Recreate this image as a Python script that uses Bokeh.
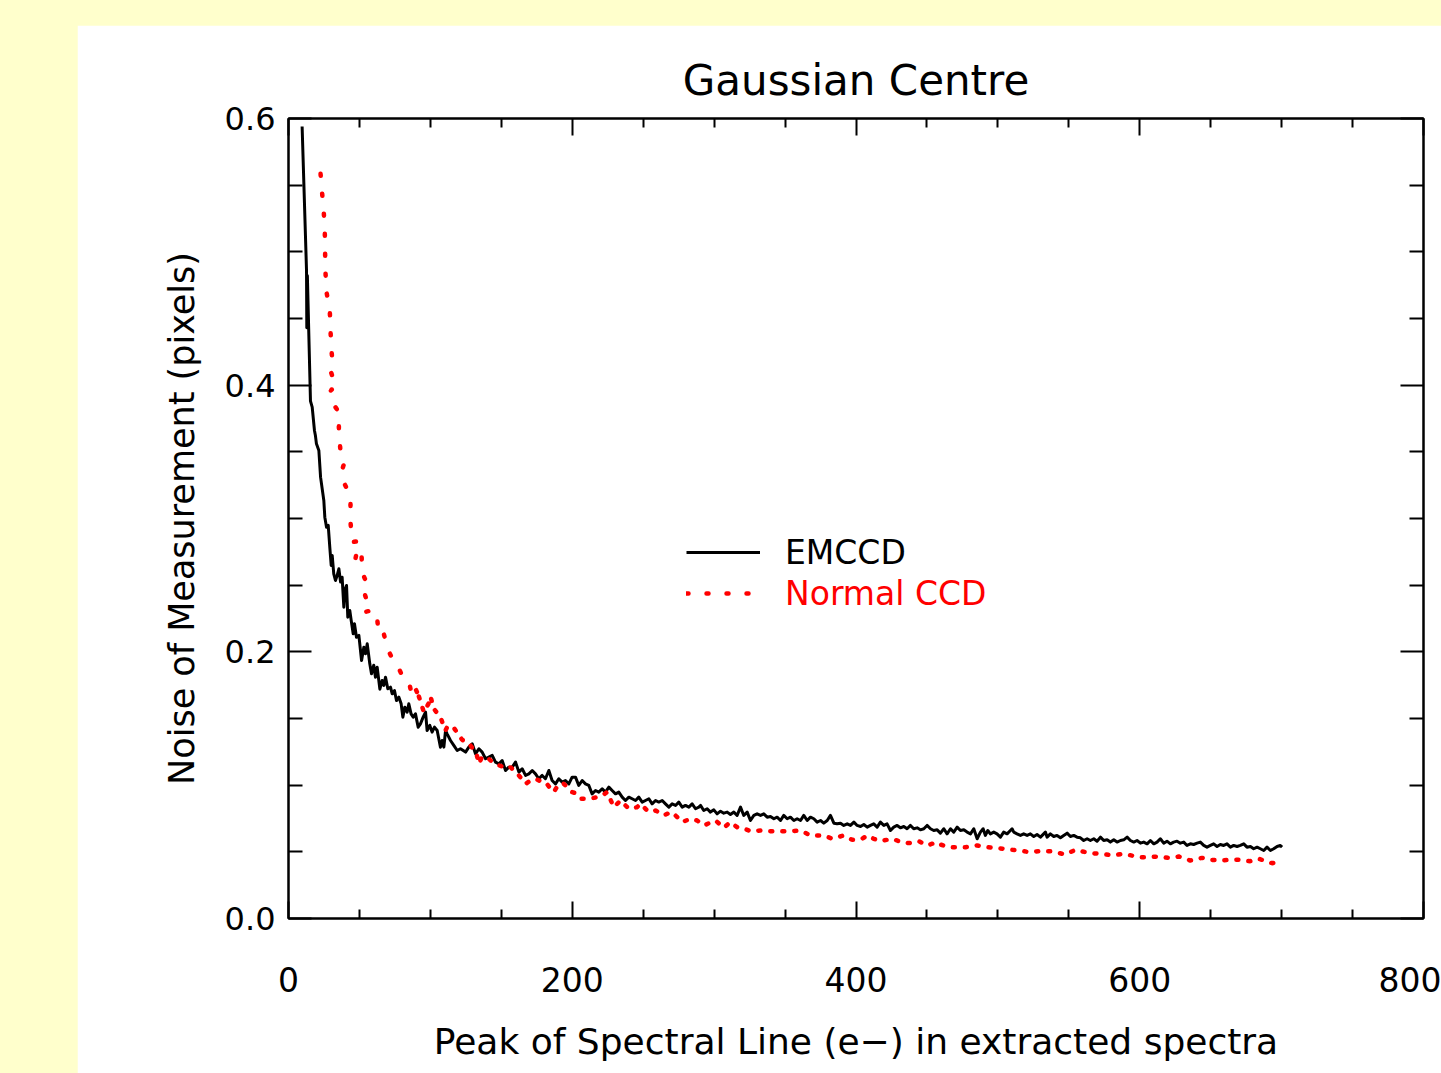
from bokeh.plotting import figure
from bokeh.models import (FixedTicker, LinearAxis, Range1d, NumeralTickFormatter,
                          CustomJSTickFormatter, Legend, LegendItem, Spacer)
from bokeh.layouts import column, row
from bokeh.embed import file_html
from bokeh.resources import INLINE

# ---------------- data ----------------
title_text = "Gaussian Centre"
x_label = "Peak of Spectral Line (e\u2212) in extracted spectra"
y_label = "Noise of Measurement (pixels)"
series_names = ["EMCCD", "Normal CCD"]
x_ticks = [0, 200, 400, 600, 800]
x_minor = [50, 100, 150, 250, 300, 350, 450, 500, 550, 650, 700, 750]
y_ticks = [0.0, 0.2, 0.4, 0.6]
y_minor = [0.05, 0.1, 0.15, 0.25, 0.3, 0.35, 0.45, 0.5, 0.55]

emccd_x = [
    9.6, 12.7, 12.9, 13.3, 15.5, 16.7, 18.3, 19.0, 19.7, 21.4,
    22.6, 24.9, 25.6, 26.8, 28.0, 29.1, 30.1, 30.8, 31.9, 33.1,
    34.3, 35.5, 36.7, 37.8, 39.0, 39.7, 40.9, 41.8, 43.2, 44.2,
    45.6, 46.5, 47.9, 49.6, 51.5, 53.1, 54.3, 55.5, 57.3, 58.5,
    60.1, 61.3, 62.5, 64.4, 66.0, 67.2, 68.4, 70.0, 71.9, 73.1,
    74.7, 76.1, 77.8, 79.4, 80.6, 82.0, 83.6, 84.8, 86.4, 87.9,
    89.5, 91.4, 93.0, 94.9, 96.6, 97.7, 99.6, 101.2, 102.9, 104.8,
    107.1, 108.3, 109.5, 110.7, 111.8,
    114.2, 116.5, 118.9, 121.2, 124.8, 127.1, 129.5, 131.8, 134.2, 136.5,
    138.9, 141.2, 143.6, 145.9, 148.3, 150.6, 153.0, 155.3, 157.7, 160.0,
    162.4, 164.7, 167.1, 169.4, 171.8, 174.1, 176.4, 178.8, 181.1, 183.5,
    185.8, 188.2, 190.5, 192.9, 195.2, 197.6, 199.9, 202.3, 204.6, 207.0,
    209.3, 211.7, 214.0, 216.4, 218.7, 221.1, 223.4, 225.8, 228.1, 230.5,
    232.8, 235.2, 237.5, 239.9, 242.2, 244.6, 246.9, 249.3, 251.6, 254.0,
    256.3, 258.7, 261.0, 263.4, 265.7, 268.1, 270.4, 272.8, 275.1, 277.5,
    279.8, 282.2, 284.5, 286.9, 289.2,
    290.4, 292.7, 295.1, 297.4, 299.8, 302.1, 304.5, 306.8, 309.2, 311.5,
    313.9, 316.2, 318.6, 320.9, 323.3, 325.6, 328.0, 330.3, 332.7, 335.0,
    337.4, 339.7, 342.1, 344.4, 346.8, 349.1, 351.5, 353.8, 356.2, 358.5,
    360.9, 363.2, 365.6, 367.9, 370.3, 372.6, 375.0, 377.3, 379.7, 382.0,
    384.4, 386.7, 389.1, 391.4, 393.8, 396.1, 398.5, 400.8, 403.2, 405.5,
    407.9, 410.2, 412.5, 414.9, 417.2, 419.6, 421.9, 424.3, 426.6, 429.0,
    431.3, 433.7, 436.0, 438.4, 440.7, 443.1, 445.4, 447.8, 450.1, 452.5,
    454.8, 457.2, 459.5, 461.9, 464.2, 466.6, 468.9, 471.3, 473.6, 476.0,
    478.3, 480.7, 483.0, 485.4,
    487.7, 489.6, 491.2, 492.9, 494.7, 497.1, 499.4, 501.8, 504.1, 506.5,
    508.8, 510.0, 511.2, 513.5, 515.9, 518.2, 520.6, 522.9, 525.3, 527.6,
    530.0, 532.3, 533.5, 534.7, 537.0, 539.4, 541.7, 544.1, 546.4, 548.8,
    551.1, 553.5, 555.8, 558.2, 560.5, 562.9, 565.2, 567.6, 569.9, 572.3,
    574.6, 577.0, 579.3, 581.7, 584.0, 586.4, 588.7, 591.1, 593.4, 595.8,
    598.1, 600.5, 602.8, 605.2, 607.5, 609.9, 612.2, 614.5, 616.9, 619.2,
    621.6, 623.9, 626.3, 628.6, 631.0, 633.3, 635.7, 638.0, 640.4, 642.7,
    645.1, 647.4, 649.8, 652.1, 654.5, 656.8, 659.2, 661.5, 663.9, 666.2,
    668.6, 670.9, 673.3, 675.6, 678.0, 680.3, 682.7, 685.0, 687.4, 689.7,
    692.1, 694.4, 696.8, 699.1, 700.3,
]
emccd_y = [
    0.594, 0.486, 0.443, 0.482, 0.388, 0.3835, 0.366, 0.362, 0.356, 0.351,
    0.331, 0.3135, 0.301, 0.2935, 0.2948, 0.2785, 0.2648, 0.2723, 0.2585, 0.2535,
    0.2573, 0.2623, 0.2523, 0.256, 0.2335, 0.246, 0.2498, 0.226, 0.231, 0.2235,
    0.2135, 0.221, 0.211, 0.2123, 0.1935, 0.2035, 0.1985, 0.206, 0.191, 0.1835,
    0.19, 0.181, 0.1885, 0.172, 0.1785, 0.1748, 0.181, 0.1723, 0.1735, 0.1685,
    0.171, 0.1635, 0.166, 0.161, 0.151, 0.1585, 0.1548, 0.161, 0.1535, 0.151,
    0.1535, 0.1435, 0.146, 0.151, 0.1548, 0.141, 0.1448, 0.1398, 0.1435, 0.141,
    0.1285, 0.1335, 0.1285, 0.141, 0.1385,
    0.1335, 0.1298, 0.126, 0.1273, 0.1248, 0.1285, 0.131, 0.1235, 0.1273, 0.1248,
    0.1198, 0.121, 0.1223, 0.1173, 0.116, 0.1185, 0.111, 0.1135, 0.1135, 0.1173,
    0.1098, 0.1123, 0.1073, 0.1085, 0.111, 0.1085, 0.1048, 0.1073, 0.1048, 0.111,
    0.1035, 0.101, 0.1048, 0.1023, 0.1035, 0.101, 0.106, 0.106, 0.0998, 0.1035,
    0.101, 0.0998, 0.0935, 0.096, 0.0948, 0.0973, 0.0948, 0.0985, 0.096, 0.0935,
    0.0948, 0.091, 0.0885, 0.091, 0.0898, 0.0885, 0.091, 0.0873, 0.0885, 0.0898,
    0.086, 0.0885, 0.0873, 0.0885, 0.086, 0.0835, 0.086, 0.0848, 0.0873, 0.0835,
    0.0848, 0.0835, 0.086, 0.0823, 0.0835,
    0.0848, 0.081, 0.0823, 0.0798, 0.0815, 0.0785, 0.0805, 0.079, 0.0798, 0.078,
    0.0798, 0.0773, 0.0835, 0.0773, 0.0798, 0.0735, 0.0773, 0.0785, 0.0773, 0.0785,
    0.076, 0.0765, 0.0748, 0.076, 0.0735, 0.0773, 0.0748, 0.076, 0.0735, 0.0748,
    0.0735, 0.0773, 0.0735, 0.076, 0.0748, 0.0723, 0.0735, 0.0715, 0.0735, 0.0773,
    0.0715, 0.071, 0.0715, 0.0698, 0.071, 0.0698, 0.0723, 0.0698, 0.069, 0.0705,
    0.0685, 0.0698, 0.071, 0.0685, 0.0723, 0.0698, 0.071, 0.066, 0.0685, 0.0698,
    0.068, 0.069, 0.0673, 0.0698, 0.0673, 0.068, 0.0665, 0.0673, 0.0698, 0.0673,
    0.066, 0.0665, 0.064, 0.0673, 0.0635, 0.0673, 0.0648, 0.0685, 0.066, 0.0665,
    0.0648, 0.0635, 0.0673, 0.0598,
    0.0648, 0.0673, 0.0623, 0.066, 0.0635, 0.0648, 0.0635, 0.061, 0.0648, 0.0635,
    0.066, 0.0673, 0.0648, 0.0635, 0.0623, 0.0635, 0.0623, 0.0635, 0.0615, 0.063,
    0.061, 0.0635, 0.0648, 0.061, 0.0635, 0.0615, 0.0623, 0.0605, 0.0623, 0.064,
    0.0615, 0.0623, 0.061, 0.0605, 0.0585, 0.0598, 0.0585, 0.0598, 0.058, 0.061,
    0.0585, 0.059, 0.0573, 0.059, 0.0573, 0.0585, 0.059, 0.061, 0.0585, 0.0573,
    0.0585, 0.0565, 0.0573, 0.056, 0.0585, 0.056, 0.0573, 0.0598, 0.0565, 0.058,
    0.056, 0.0573, 0.058, 0.0565, 0.0573, 0.0548, 0.056, 0.0555, 0.0565, 0.0573,
    0.0548, 0.0535, 0.0548, 0.056, 0.054, 0.0555, 0.0548, 0.056, 0.0535, 0.0548,
    0.054, 0.0548, 0.056, 0.0535, 0.054, 0.0523, 0.0535, 0.0523, 0.051, 0.0535,
    0.051, 0.0523, 0.054, 0.0548, 0.0535,
]

ccd_x = [
    22.6, 23.7, 24.9, 25.6, 25.8, 26.1, 26.8, 29.1, 29.6, 30.3,
    30.8, 29.6, 31.5, 33.1, 29.6, 32.7, 33.1, 35.5, 35.5, 36.6,
    39.5, 37.8, 39.5, 41.8, 43.7, 43.7, 44.9, 49.6, 47.2, 51.4,
    51.9, 56.1, 53.6, 56.1, 53.6, 60.1, 62.5, 63.7, 67.2, 69.5,
    73.8, 77.0, 81.3, 84.8, 87.2, 89.5, 91.9, 95.4, 98.9, 100.1,
    102.4, 107.1, 110.6, 111.8, 114.2, 117.0, 122.4, 127.1, 128.3, 132.5,
    134.2, 136.5, 141.2, 142.4, 147.1, 154.1, 156.5, 160.0, 162.4, 167.1,
    170.6, 174.1, 177.6, 181.1, 185.8, 187.0, 190.5, 194.1, 199.9, 202.3,
    204.6, 205.8, 210.5, 215.2, 217.6, 221.1, 224.6, 229.3, 234.0, 239.9,
    245.7, 248.1, 252.8, 255.1, 258.7, 264.5, 266.9, 270.4, 277.5, 283.3,
    288.0, 292.7, 301.0, 306.8, 311.5, 316.2, 319.8, 325.6, 332.7, 339.7,
    346.8, 353.8, 360.9, 367.9, 377.3, 383.2, 391.4, 397.3, 404.3, 407.9,
    412.5, 417.2, 425.5, 430.2, 437.2, 444.3, 450.1, 457.2, 459.5, 465.4,
    471.3, 477.1, 485.4, 492.4, 504.1, 510.0, 518.2, 521.8, 528.8, 537.0,
    547.6, 554.6, 561.7, 566.4, 575.8, 581.7, 587.5, 591.1, 599.3, 606.3,
    613.4, 620.4, 627.5, 635.7, 643.9, 649.8, 656.8, 663.9, 669.7, 677.9,
    683.8, 693.2, 696.0,
]
ccd_y = [
    0.5585, 0.544, 0.529, 0.514, 0.499, 0.484, 0.4698, 0.456, 0.441, 0.426,
    0.4198, 0.411, 0.4048, 0.3973, 0.3965, 0.3898, 0.3835, 0.3798, 0.3655, 0.351,
    0.3423, 0.3365, 0.326, 0.321, 0.3123, 0.2973, 0.2823, 0.283, 0.2698, 0.276,
    0.2598, 0.249, 0.244, 0.2348, 0.2298, 0.2315, 0.2248, 0.2123, 0.2135, 0.203,
    0.1935, 0.189, 0.1798, 0.178, 0.1665, 0.1723, 0.1665, 0.1548, 0.1615, 0.1665,
    0.1573, 0.151, 0.141, 0.1435, 0.1448, 0.1423, 0.134, 0.1315, 0.1298, 0.1235,
    0.116, 0.1215, 0.1198, 0.1185, 0.1155, 0.1123, 0.1135, 0.1098, 0.1073, 0.101,
    0.1035, 0.1048, 0.103, 0.1023, 0.096, 0.0948, 0.101, 0.101, 0.0948, 0.094,
    0.091, 0.0898, 0.0898, 0.0905, 0.091, 0.0923, 0.0948, 0.0835, 0.0885, 0.0823,
    0.0835, 0.086, 0.081, 0.0798, 0.081, 0.0773, 0.0785, 0.0798, 0.0723, 0.0748,
    0.0735, 0.0698, 0.0735, 0.068, 0.0723, 0.0685, 0.068, 0.0655, 0.066, 0.0655,
    0.0655, 0.0655, 0.066, 0.0623, 0.0623, 0.0598, 0.0623, 0.059, 0.0598, 0.0623,
    0.0598, 0.058, 0.0598, 0.058, 0.0565, 0.058, 0.0548, 0.0573, 0.0555, 0.0535,
    0.0535, 0.0535, 0.0548, 0.0535, 0.0523, 0.0515, 0.0505, 0.0498, 0.0505, 0.0505,
    0.048, 0.0515, 0.0498, 0.049, 0.048, 0.0473, 0.0485, 0.048, 0.046, 0.046,
    0.0465, 0.0455, 0.0465, 0.0435, 0.0455, 0.044, 0.0435, 0.044, 0.044, 0.043,
    0.0448, 0.0415, 0.042,
]

# ---------------- style ----------------
FONT = "DejaVu Sans"
YELLOW = "#ffffcc"
RED = "#ff0000"

p = figure(width=1364, height=1048,
           x_range=Range1d(0, 800), y_range=Range1d(0, 0.6),
           output_backend="svg", toolbar_location=None,
           min_border_left=211, min_border_right=18,
           min_border_top=93, min_border_bottom=155,
           title=title_text)
p.background_fill_color = "white"
p.border_fill_color = "white"
p.outline_line_color = "black"
p.outline_line_width = 2
p.grid.visible = False

p.title.align = "center"
p.title.text_font = FONT
p.title.text_font_size = "42px"
p.title.text_font_style = "normal"
p.title.text_color = "black"
p.title.standoff = 28

xt = FixedTicker(ticks=x_ticks, minor_ticks=x_minor)
yt = FixedTicker(ticks=y_ticks, minor_ticks=y_minor)


def style_axis(ax, major_in, minor_in):
    ax.axis_line_width = 2
    ax.axis_line_color = "black"
    ax.major_tick_in = major_in
    ax.major_tick_out = 0
    ax.minor_tick_in = minor_in
    ax.minor_tick_out = 0
    ax.major_tick_line_width = 2
    ax.minor_tick_line_width = 2
    ax.major_tick_line_color = "black"
    ax.minor_tick_line_color = "black"
    ax.major_label_text_color = "black"
    ax.axis_label_text_color = "black"


xa = p.xaxis[0]
xa.ticker = xt
style_axis(xa, 17, 9)
xa.major_label_text_font = FONT
xa.major_label_text_font_size = "33px"
xa.major_label_standoff = 48
xa.axis_label = x_label
xa.axis_label_text_font = FONT
xa.axis_label_text_font_size = "36px"
xa.axis_label_text_font_style = "normal"
xa.axis_label_standoff = 26

ya = p.yaxis[0]
ya.ticker = yt
ya.formatter = NumeralTickFormatter(format="0.0")
style_axis(ya, 23, 14)
ya.major_label_text_font = FONT
ya.major_label_text_font_size = "32px"
ya.major_label_standoff = 13
ya.axis_label = y_label
ya.axis_label_text_font = FONT
ya.axis_label_text_font_size = "35px"
ya.axis_label_text_font_style = "normal"
ya.axis_label_standoff = 20

blank = CustomJSTickFormatter(code="return ''")
top = LinearAxis(ticker=xt, formatter=blank, major_label_standoff=0,
                 major_label_text_font_size="1px")
style_axis(top, 17, 9)
right = LinearAxis(ticker=yt, formatter=blank, major_label_standoff=0,
                   major_label_text_font_size="1px")
style_axis(right, 23, 14)
p.add_layout(top, "above")
p.add_layout(right, "right")

# ---------------- series ----------------
r_em = p.line(emccd_x, emccd_y, line_color="black", line_width=3,
              line_join="round")

split = next(i for i, v in enumerate(ccd_x) if v >= 90)
r_ccd1 = p.line(ccd_x[:split + 1], ccd_y[:split + 1], line_color=RED,
                line_width=4.5, line_dash="2 18", line_cap="round")
r_ccd2 = p.line(ccd_x[split:], ccd_y[split:], line_color=RED,
                line_width=4.5, line_dash="2 10", line_cap="round")

# ---------------- legends ----------------
common = dict(padding=0, margin=0, spacing=0, border_line_color=None,
              background_fill_alpha=0, glyph_width=74, glyph_height=40,
              label_height=40, label_standoff=25, label_text_font=FONT,
              label_text_font_size="33px")
leg1 = Legend(items=[LegendItem(label=series_names[0], renderers=[r_em])],
              location=(398, 346), label_text_color="black", **common)
leg2 = Legend(items=[LegendItem(label=series_names[1], renderers=[r_ccd1])],
              location=(398, 305), label_text_color=RED, **common)
p.add_layout(leg1)
p.add_layout(leg2)

bg = {"background-color": YELLOW}
layout = column(
    Spacer(width=1441, height=25, styles=bg),
    row(Spacer(width=77, height=1048, styles=bg), p, spacing=0),
    spacing=0, styles=bg,
)

open("out.html", "w").write(file_html(layout, INLINE))
